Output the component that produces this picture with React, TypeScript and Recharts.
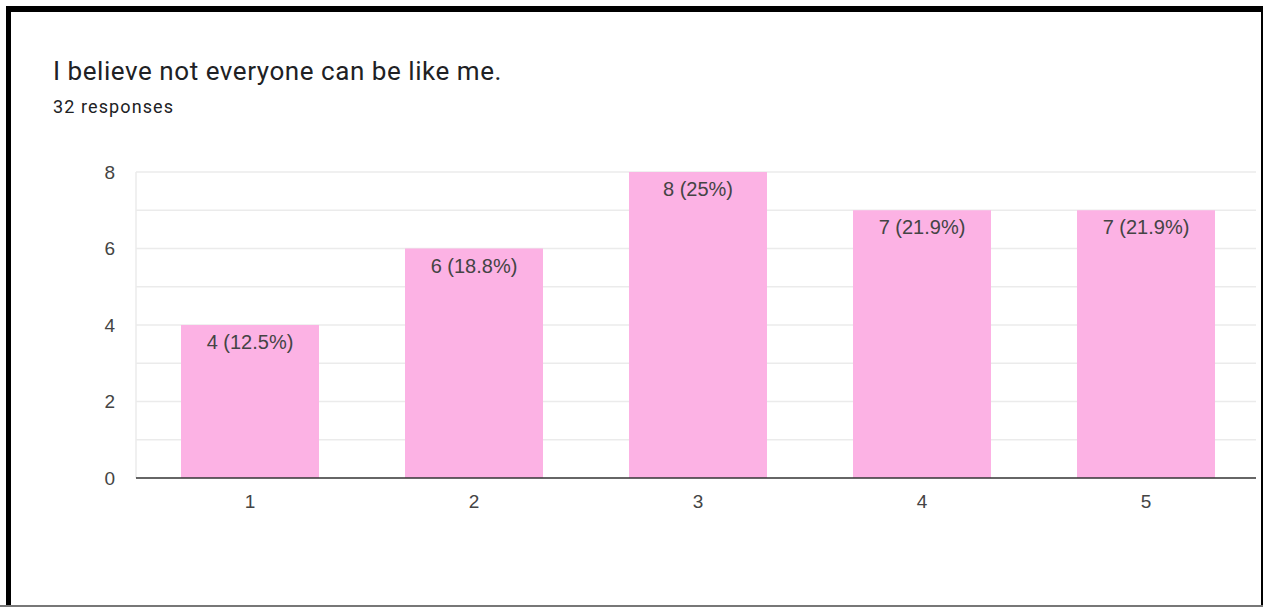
import { BarChart, Bar, XAxis, YAxis, CartesianGrid, LabelList } from "recharts";

const TITLE = "I believe not everyone can be like me.";
const SUBTITLE = "32 responses";
const CATEGORIES = ["1", "2", "3", "4", "5"];
const COUNTS = [4, 6, 8, 7, 7];
const LABELS = ["4 (12.5%)", "6 (18.8%)", "8 (25%)", "7 (21.9%)", "7 (21.9%)"];
const Y_TICKS = [0, 2, 4, 6, 8];
const GRID_VALUES = [1, 2, 3, 4, 5, 6, 7, 8];

const data = CATEGORIES.map((c, i) => ({ name: c, value: COUNTS[i], label: LABELS[i] }));

const HEAD_FONT = "Roboto, Arial, sans-serif";
const CHART_FONT = "'Liberation Sans', Arial, sans-serif";

export default function App() {
  return (
    <div style={{ position: "absolute", left: 0, top: 0, width: 1263, height: 607, background: "#fff", overflow: "hidden", fontFamily: HEAD_FONT }}>
      <div style={{ position: "absolute", left: 53, top: 56, fontSize: 26, letterSpacing: 0.55, color: "#202124", whiteSpace: "nowrap" }}>{TITLE}</div>
      <div style={{ position: "absolute", left: 53, top: 96, fontSize: 18, letterSpacing: 1.1, color: "#202124", whiteSpace: "nowrap" }}>{SUBTITLE}</div>

      <div style={{ position: "absolute", left: 0, top: 0 }}>
        <BarChart width={1263} height={607} data={data} margin={{ top: 172, right: 7, bottom: 99, left: 96 }}>
          <CartesianGrid vertical={false} horizontalValues={GRID_VALUES} stroke="#ebebeb" strokeWidth={1.5} />
          <YAxis
            width={40}
            domain={[0, 8]}
            ticks={Y_TICKS}
            axisLine={{ stroke: "#ebebeb", strokeWidth: 1.5 }}
            tickLine={false}
            tickMargin={15}
            tick={{ fill: "#444", fontSize: 19, fontFamily: CHART_FONT }}
          />
          <XAxis
            dataKey="name"
            height={30}
            padding={{ left: 2, right: -2 }}
            axisLine={{ stroke: "#333", strokeWidth: 1.5 }}
            tickLine={false}
            tickMargin={11}
            tick={{ fill: "#444", fontSize: 19, fontFamily: CHART_FONT }}
          />
          <Bar dataKey="value" fill="#fcb2e4" barSize={138} isAnimationActive={false}>
            <LabelList dataKey="label" position="insideTop" offset={10} fill="#444" fontSize={20} fontFamily={CHART_FONT} />
          </Bar>
        </BarChart>
      </div>

      <div style={{ position: "absolute", left: 6, top: 6, width: 1250, height: 620, borderTop: "6px solid #000", borderLeft: "5px solid #000", borderRight: "5px solid #000" }} />
      <div style={{ position: "absolute", left: 0, top: 605, width: 1263, height: 2, background: "#777" }} />
    </div>
  );
}
